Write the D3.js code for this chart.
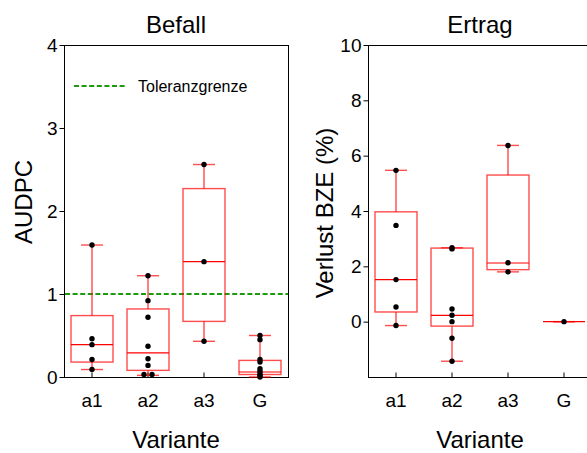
<!DOCTYPE html>
<html>
<head>
<meta charset="utf-8">
<script src="https://cdn.jsdelivr.net/npm/d3@7"></script>
<style>
html,body{margin:0;padding:0;background:#fff;overflow:hidden;}
svg{display:block;font-family:"Liberation Sans",Arial,Helvetica,sans-serif;}
</style>
</head>
<body>
<svg id="chart" width="587" height="453"></svg>
<script>
// ---------- data ----------
const categories = ["a1", "a2", "a3", "G"];

// Befall (AUDPC)
const befallPoints = [
  [1.59, 0.46, 0.39, 0.21, 0.09],
  [1.22, 0.92, 0.72, 0.37, 0.22, 0.14, 0.03, 0.03],
  [2.56, 1.39, 0.43],
  [0.50, 0.45, 0.21, 0.18, 0.10, 0.07, 0.04, 0.02, 0.00]
];
const befallLow    = [0.09, 0.02, 0.43, 0.00];
const befallQ1     = [0.18, 0.08, 0.67, 0.03];
const befallMedian = [0.39, 0.29, 1.39, 0.06];
const befallQ3     = [0.74, 0.82, 2.27, 0.20];
const befallHigh   = [1.59, 1.22, 2.56, 0.50];
const befallTicks  = [0, 1, 2, 3, 4];
const befallDomain = [0, 4];
const toleranceLimit = 1;

// Ertrag (Verlust BZE %)
const ertragPoints = [
  [5.47, 3.48, 1.52, 0.53, -0.14],
  [2.67, 2.63, 0.46, 0.23, 0.00, -0.60, -1.43],
  [6.37, 2.13, 1.80],
  [0.00]
];
const ertragLow    = [-0.14, -1.43, 1.80, 0];
const ertragQ1     = [0.35, -0.16, 1.88, 0];
const ertragMedian = [1.52, 0.23, 2.12, 0];
const ertragQ3     = [3.97, 2.66, 5.30, 0];
const ertragHigh   = [5.47, 2.67, 6.37, 0];
const ertragTicks  = [0, 2, 4, 6, 8, 10];
const ertragDomain = [-2, 10];

// ---------- drawing ----------
const svg = d3.select("#chart");
const plotTop = 45, plotBottom = 377;
const boxW = 42, capW = 22;
const red = "#ff0000";
const green = "#1f9a10";

function panel(opts) {
  const x = d3.scaleBand().domain(categories).range([opts.left, opts.left + 224]).padding(0);
  const y = d3.scaleLinear().domain(opts.domain).range([plotBottom, plotTop]);
  const g = svg.append("g");
  const cx = c => x(c) + x.bandwidth() / 2;

  // frame
  g.append("rect")
    .attr("x", opts.left + 0.5).attr("y", plotTop + 0.5)
    .attr("width", 224).attr("height", plotBottom - plotTop)
    .attr("fill", "none").attr("stroke", "#000").attr("stroke-width", 1);

  // y axis
  const ya = g.append("g").attr("transform", `translate(${opts.left + 0.5},0)`)
    .call(d3.axisLeft(y).tickValues(opts.ticks).tickSize(5).tickPadding(2).tickFormat(d3.format("d")));
  ya.select(".domain").remove();
  ya.selectAll("text").attr("font-size", 19).attr("font-family", "Liberation Sans, Arial, sans-serif").attr("fill", "#000");
  ya.selectAll("line").attr("stroke", "#000");

  // x axis (ticks inward)
  const xa = g.append("g").attr("transform", `translate(0,${plotBottom + 0.5})`)
    .call(d3.axisBottom(x).tickSizeInner(-5).tickSizeOuter(0).tickPadding(16));
  xa.select(".domain").remove();
  xa.selectAll("text").attr("font-size", 19).attr("font-family", "Liberation Sans, Arial, sans-serif").attr("fill", "#000");
  xa.selectAll("line").attr("stroke", "#000");

  // titles / labels
  g.append("text").attr("x", opts.left + 112).attr("y", 33)
    .attr("text-anchor", "middle").attr("font-size", 24).text(opts.title);
  g.append("text").attr("x", opts.left + 112).attr("y", 448)
    .attr("text-anchor", "middle").attr("font-size", 24).text("Variante");
  g.append("text")
    .attr("transform", `translate(${opts.ylabX},${opts.ylabY}) rotate(-90)`)
    .attr("text-anchor", "middle").attr("font-size", 24).text(opts.ylab);

  // reference line (drawn before boxes)
  if (opts.refLine !== undefined) {
    g.append("line")
      .attr("x1", opts.left + 1).attr("x2", opts.left + 224)
      .attr("y1", y(opts.refLine)).attr("y2", y(opts.refLine))
      .attr("stroke", green).attr("stroke-width", 2).attr("stroke-dasharray", "5,2.6");
    g.append("line")
      .attr("x1", 74).attr("x2", 126).attr("y1", 86).attr("y2", 86)
      .attr("stroke", green).attr("stroke-width", 2).attr("stroke-dasharray", "5,2.6");
    g.append("text").attr("x", 138).attr("y", 91.5).attr("font-size", 16).text("Toleranzgrenze");
  }

  // boxplots
  categories.forEach((c, i) => {
    const xc = cx(c);
    const bg = g.append("g");
    // whiskers
    bg.append("line").attr("x1", xc).attr("x2", xc).attr("y1", y(opts.q3[i])).attr("y2", y(opts.high[i]))
      .attr("stroke", red).attr("stroke-width", 1);
    bg.append("line").attr("x1", xc).attr("x2", xc).attr("y1", y(opts.low[i])).attr("y2", y(opts.q1[i]))
      .attr("stroke", red).attr("stroke-width", 1);
    [opts.high[i], opts.low[i]].forEach(v => {
      bg.append("line").attr("x1", xc - capW / 2).attr("x2", xc + capW / 2).attr("y1", y(v)).attr("y2", y(v))
        .attr("stroke", red).attr("stroke-width", 1.4).attr("stroke-opacity", 0.7);
    });
    // box
    bg.append("rect").attr("x", xc - boxW / 2).attr("y", y(opts.q3[i]))
      .attr("width", boxW).attr("height", Math.max(0, y(opts.q1[i]) - y(opts.q3[i])))
      .attr("fill", "none").attr("stroke", red).attr("stroke-width", 1.4).attr("stroke-opacity", 0.7);
    bg.append("line").attr("x1", xc - boxW / 2).attr("x2", xc + boxW / 2)
      .attr("y1", y(opts.median[i])).attr("y2", y(opts.median[i]))
      .attr("stroke", red).attr("stroke-width", 1.2);

    // points; equal values get spread sideways
    const pts = opts.points[i];
    const counts = {};
    pts.forEach(v => { const k = v.toFixed(2); counts[k] = (counts[k] || 0) + 1; });
    const seen = {};
    pts.forEach(v => {
      const k = v.toFixed(2);
      const n = counts[k];
      const j = seen[k] = (seen[k] || 0) + 1;
      const off = n > 1 ? (j - 1 - (n - 1) / 2) * 8 : 0;
      g.append("circle").attr("cx", xc + off).attr("cy", y(v)).attr("r", 2.7).attr("fill", "#000");
    });
  });
}

panel({
  left: 64, domain: befallDomain, ticks: befallTicks, title: "Befall",
  ylab: "AUDPC", ylabX: 32, ylabY: 202,
  points: befallPoints, low: befallLow, q1: befallQ1, median: befallMedian, q3: befallQ3, high: befallHigh,
  refLine: toleranceLimit
});
panel({
  left: 368, domain: ertragDomain, ticks: ertragTicks, title: "Ertrag",
  ylab: "Verlust BZE (%)", ylabX: 333, ylabY: 213,
  points: ertragPoints, low: ertragLow, q1: ertragQ1, median: ertragMedian, q3: ertragQ3, high: ertragHigh
});
</script>
</body>
</html>
